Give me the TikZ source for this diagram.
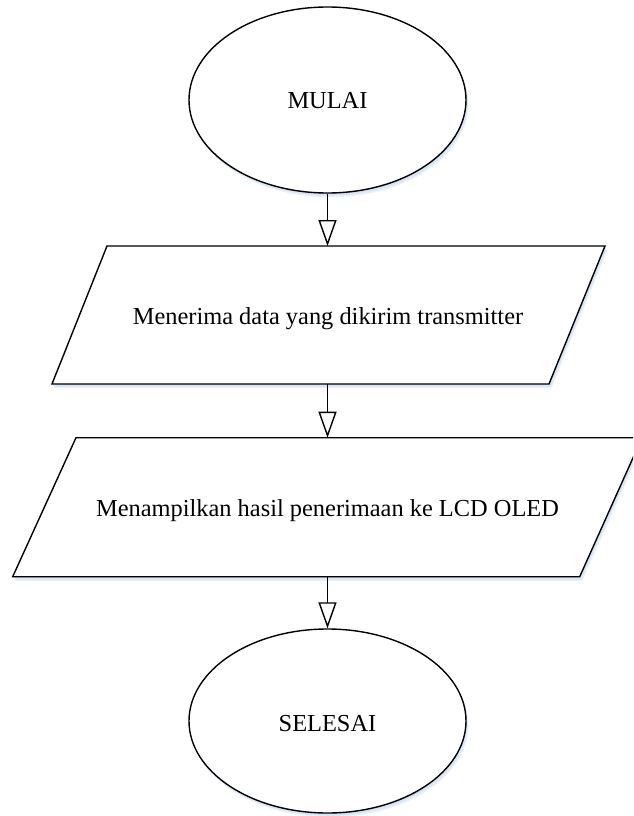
\documentclass[tikz,border=0pt]{standalone}
\usepackage{fontspec}
\setmainfont{Liberation Serif}
\usetikzlibrary{arrows.meta,shapes.geometric}
\definecolor{shadowblue}{RGB}{196,214,240}
\tikzset{
  x=1pt, y=1pt,
  outline/.style={draw=black, line width=1.4pt, fill=white, line join=miter},
  shade/.style={fill=shadowblue, fill opacity=0.35, draw=none},
  termshape/.style={ellipse, outline, minimum width=277pt, minimum height=186pt, inner sep=0pt},
  label/.style={font=\fontsize{24.4pt}{28pt}\selectfont, inner sep=0pt, anchor=base},
  flow/.style={draw=black, line width=1.4pt, -{Triangle[open, width=18pt, length=26pt, line width=1.4pt]}},
}
\begin{document}
\begin{tikzpicture}
\clip (0,0) rectangle (633,-816);
\fill[white] (0,0) rectangle (633,-816);

% shadows
\foreach \d in {1,2,3}{
  \begin{scope}[shift={(0.8*\d,-1.4*\d)}]
    \fill[shade] (327.5,-100) ellipse [x radius=138.5, y radius=93];
    \fill[shade] (107,-246) -- (605,-246) -- (549,-384) -- (52,-384) -- cycle;
    \fill[shade] (76,-437.7) -- (642,-437.7) -- (579.7,-576.7) -- (12.7,-576.7) -- cycle;
    \fill[shade] (327.5,-721) ellipse [x radius=138.5, y radius=92];
  \end{scope}
}

% start
\node[termshape] (start) at (327.5,-100) {};
\node[label] (starttext) at (327.5,-108.3) {MULAI};

% input 1
\draw[outline] (107,-246) -- (605,-246) -- (549,-384) -- (52,-384) -- cycle;
\coordinate (p1top) at (327.5,-246);
\coordinate (p1bot) at (327.5,-384);
\node[label] (recv) at (328,-324) {Menerima data yang dikirim transmitter};

% input 2
\draw[outline] (76,-437.7) -- (642,-437.7) -- (579.7,-576.7) -- (12.7,-576.7) -- cycle;
\coordinate (p2top) at (327.5,-437.7);
\coordinate (p2bot) at (327.5,-576.7);
\node[label] (show) at (327.5,-516.7) {Menampilkan hasil penerimaan ke LCD OLED};

% end
\node[termshape, minimum height=184pt] (stop) at (327.5,-721) {};
\node[label] (stoptext) at (327.5,-731.7) {SELESAI};

% connectors
\draw[flow] (start.south) -- (p1top);
\draw[flow] (p1bot) -- (p2top);
\draw[flow] (p2bot) -- (stop.north);
\end{tikzpicture}
\end{document}
